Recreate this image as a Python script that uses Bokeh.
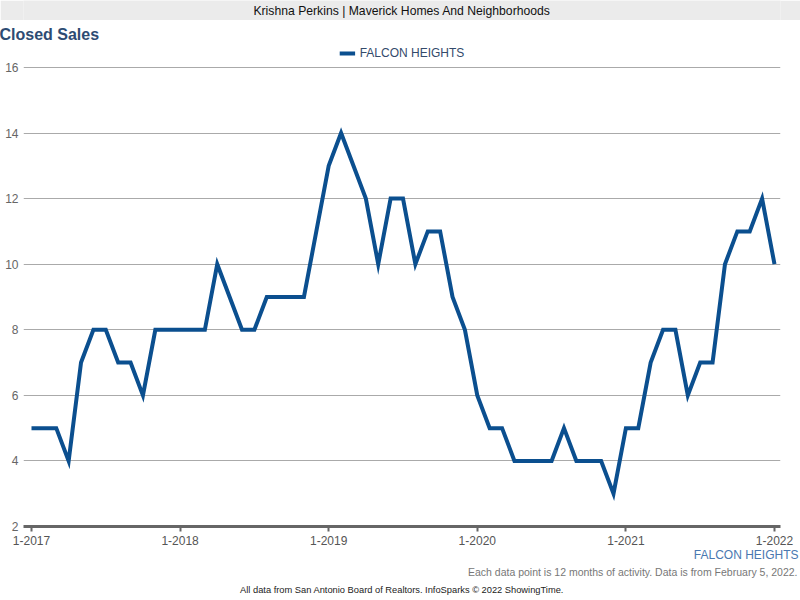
from bokeh.plotting import figure
from bokeh.layouts import column
from bokeh.models import (Range1d, FixedTicker, Legend, LegendItem, Title, ColumnDataSource)
from bokeh.core.properties import value
from bokeh.embed import file_html
from bokeh.resources import INLINE

# ---- data ----
header_text = "Krishna Perkins | Maverick Homes And Neighborhoods"
chart_title = "Closed Sales"
series_name = "FALCON HEIGHTS"
closed_sales = [5, 5, 5, 4, 7, 8, 8, 7, 7, 6, 8, 8,
                8, 8, 8, 10, 9, 8, 8, 9, 9, 9, 9, 11,
                13, 14, 13, 12, 10, 12, 12, 10, 11, 11, 9, 8,
                6, 5, 5, 4, 4, 4, 4, 5, 4, 4, 4, 3,
                5, 5, 7, 8, 8, 6, 7, 7, 10, 11, 11, 12,
                10]
year_labels = ["1-2017", "1-2018", "1-2019", "1-2020", "1-2021", "1-2022"]
y_ticks = [2, 4, 6, 8, 10, 12, 14, 16]
note_text = "Each data point is 12 months of activity. Data is from February 5, 2022."
source_text = "All data from San Antonio Board of Realtors. InfoSparks \u00a9 2022 ShowingTime."

month_index = list(range(len(closed_sales)))
tick_pos = [12 * i for i in range(len(year_labels))]

FONT = "Liberation Sans"
LINE_COLOR = "#0b4f8f"
W = 800
HEAD_H, MAIN_H = 20, 580

# ---- header band ----
hd = figure(width=W, height=HEAD_H, output_backend="svg", toolbar_location=None,
            x_range=Range1d(0, 1), y_range=Range1d(0, 1),
            x_axis_location=None, y_axis_location=None, min_border=0,
            background_fill_color="#ebebeb", border_fill_color="#ebebeb",
            outline_line_color=None)
hd.grid.grid_line_color = None
hd.text(x=[0.5], y=[0.5], text=[header_text], text_align="center",
        text_baseline="middle", text_font=value(FONT), text_font_size="12.2px",
        text_color="#111111")

# ---- main chart ----
src = ColumnDataSource(data=dict(m=month_index, v=closed_sales))

p = figure(width=W, height=MAIN_H, output_backend="svg", toolbar_location=None,
           x_range=Range1d(-0.646, 60.485), y_range=Range1d(2, 16.70),
           min_border_left=23, min_border_right=20, min_border_top=24,
           min_border_bottom=74, background_fill_color="white",
           border_fill_color="white", outline_line_color=None)

r = p.line("m", "v", source=src, line_width=4, line_color=LINE_COLOR, line_join="miter")

p.xaxis.ticker = FixedTicker(ticks=tick_pos)
p.xaxis.major_label_overrides = {t: lab for t, lab in zip(tick_pos, year_labels)}
p.xaxis.axis_line_color = "#666666"
p.xaxis.axis_line_width = 3
p.xaxis.major_tick_line_color = "#666666"
p.xaxis.major_tick_line_width = 2
p.xaxis.major_tick_out = 5
p.xaxis.major_tick_in = 0
p.xaxis.minor_tick_line_color = None
p.xaxis.minor_tick_out = 0
p.xaxis.major_label_text_font = FONT
p.xaxis.major_label_text_font_size = "12px"
p.xaxis.major_label_text_color = "#555555"
p.xaxis.major_label_standoff = 4

p.yaxis.ticker = FixedTicker(ticks=y_ticks)
p.yaxis.axis_line_color = None
p.yaxis.major_tick_line_color = None
p.yaxis.minor_tick_line_color = None
p.yaxis.major_tick_out = 0
p.yaxis.major_tick_in = 0
p.yaxis.minor_tick_out = 0
p.yaxis.major_label_text_font = FONT
p.yaxis.major_label_text_font_size = "12px"
p.yaxis.major_label_text_color = "#666666"
p.yaxis.major_label_standoff = 5

p.xgrid.grid_line_color = None
p.ygrid.ticker = FixedTicker(ticks=y_ticks)
p.ygrid.grid_line_color = "#aaaaaa"
p.ygrid.grid_line_width = 1

legend = Legend(items=[LegendItem(label=series_name, renderers=[r])],
                orientation="horizontal", location="top_center",
                border_line_color=None, background_fill_alpha=0,
                label_text_font=FONT, label_text_font_size="12px",
                label_text_color="#334a6b", glyph_width=16, glyph_height=14,
                label_standoff=5, padding=0, margin=2, spacing=0)
p.add_layout(legend)

p.add_layout(Title(text=chart_title, align="left", offset=-24,
                   text_font=FONT, text_font_size="16px", text_font_style="bold",
                   text_color="#2d4b73", standoff=4), "above")

p.add_layout(Title(text=series_name, align="right", offset=-18,
                   text_font=FONT, text_font_size="12px", text_font_style="normal",
                   text_color="#4a78b0", standoff=-3), "below")
p.add_layout(Title(text=note_text, align="right", offset=-17,
                   text_font=FONT, text_font_size="10.5px", text_font_style="normal",
                   text_color="#777777", standoff=6), "below")
p.add_layout(Title(text=source_text, align="center", offset=0,
                   text_font=FONT, text_font_size="9.3px", text_font_style="normal",
                   text_color="#222222", standoff=5), "below")

layout = column(hd, p, spacing=0)
open("out.html", "w").write(file_html(layout, INLINE))
